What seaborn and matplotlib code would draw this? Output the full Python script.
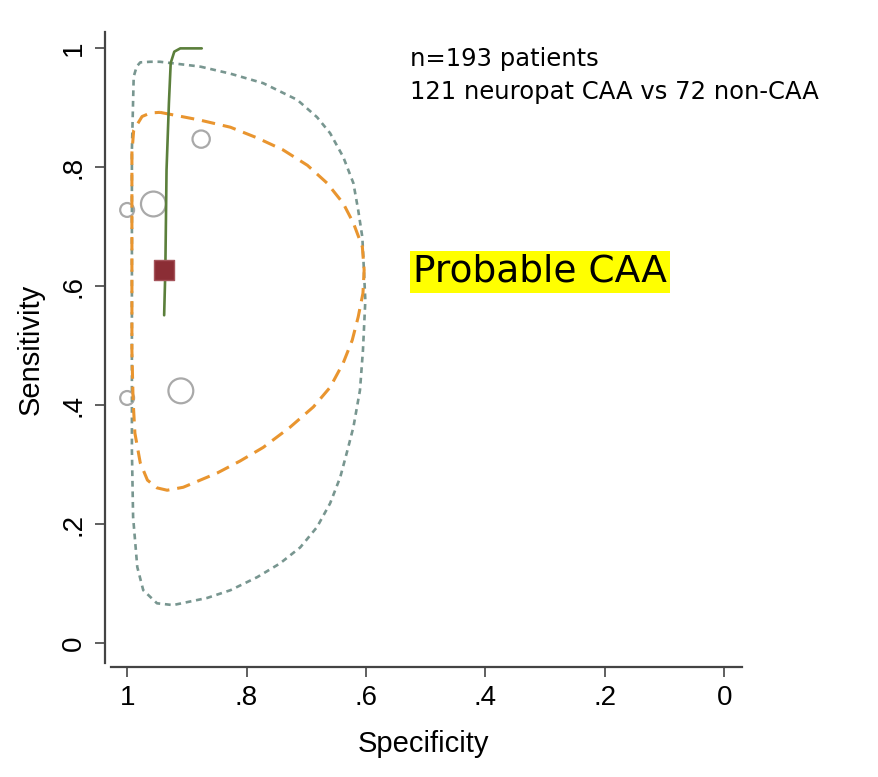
import pandas as pd
import seaborn as sns
import matplotlib.pyplot as plt

# === Study points (specificity, sensitivity, relative weight)
study_spec = [0.876, 1.000, 0.956, 1.000, 0.910]
study_sens = [0.847, 0.728, 0.738, 0.412, 0.424]
study_weight = [1.5, 1.0, 3.0, 1.0, 3.0]

# === Summary point
summ_spec = [0.938]
summ_sens = [0.627]

# === HSROC curve
sroc_spec = [0.938, 0.936, 0.934, 0.930, 0.927, 0.921, 0.911, 0.875]
sroc_sens = [0.551, 0.627, 0.795, 0.908, 0.975, 0.994, 0.9995, 0.9995]

# === 95% confidence region
conf_spec = [0.945, 0.878, 0.827, 0.782, 0.739, 0.698, 0.665, 0.638, 0.621, 0.606,
             0.603, 0.605, 0.613, 0.623, 0.638, 0.660, 0.688, 0.727, 0.772, 0.811,
             0.849, 0.906, 0.933, 0.950, 0.966, 0.978, 0.987, 0.990, 0.992, 0.992,
             0.992, 0.989, 0.975, 0.961, 0.945]
conf_sens = [0.892, 0.879, 0.867, 0.849, 0.829, 0.803, 0.773, 0.739, 0.706, 0.666,
             0.627, 0.588, 0.548, 0.509, 0.471, 0.430, 0.397, 0.363, 0.329, 0.306,
             0.286, 0.262, 0.257, 0.261, 0.274, 0.303, 0.353, 0.408, 0.492, 0.661,
             0.824, 0.862, 0.885, 0.891, 0.892]

# === 95% prediction region
pred_spec = [0.878, 0.827, 0.772, 0.715, 0.682, 0.660, 0.638, 0.621, 0.613, 0.606,
             0.601, 0.605, 0.610, 0.621, 0.631, 0.643, 0.660, 0.682, 0.710, 0.744,
             0.782, 0.827, 0.866, 0.923, 0.950, 0.973, 0.983, 0.990, 0.992, 0.992,
             0.992, 0.989, 0.984, 0.978, 0.961, 0.945, 0.878]
pred_sens = [0.969, 0.957, 0.941, 0.913, 0.884, 0.857, 0.817, 0.773, 0.728, 0.682,
             0.576, 0.492, 0.425, 0.363, 0.324, 0.279, 0.235, 0.195, 0.161, 0.134,
             0.111, 0.089, 0.076, 0.064, 0.067, 0.089, 0.128, 0.212, 0.324, 0.492,
             0.829, 0.952, 0.969, 0.976, 0.977, 0.977, 0.969]

ticks = [0, 0.2, 0.4, 0.6, 0.8, 1]
tick_labels = ['0', '.2', '.4', '.6', '.8', '1']

sns.set_style("white")
plt.rcParams['font.family'] = ['Liberation Sans', 'DejaVu Sans']
plt.rcParams['text.color'] = 'black'
plt.rcParams['axes.labelcolor'] = 'black'
plt.rcParams['xtick.color'] = 'black'
plt.rcParams['ytick.color'] = 'black'

fig = plt.figure(figsize=(8.79, 7.77), dpi=100)
ax = fig.add_axes([0.1195, 0.1416, 0.7247, 0.8172])

# === Regions
sns.lineplot(x=pred_spec, y=pred_sens, sort=False, estimator=None, ax=ax,
             color='#789690', lw=1.9)
ax.lines[-1].set_dashes((2.2, 1.8))
sns.lineplot(x=conf_spec, y=conf_sens, sort=False, estimator=None, ax=ax,
             color='#e9952f', lw=2.2)
ax.lines[-1].set_dashes((4.4, 2.6))

# === Studies
studies = pd.DataFrame({'spec': study_spec, 'sens': study_sens, 'w': study_weight})
sns.scatterplot(data=studies, x='spec', y='sens', size='w', sizes=(100, 320),
                legend=False, facecolors='none', edgecolor='#a9a9a9', linewidth=1.6, ax=ax)

# === SROC curve + summary
sns.lineplot(x=sroc_spec, y=sroc_sens, sort=False, estimator=None, ax=ax,
             color='#5b7f3b', lw=1.9)
sns.scatterplot(x=summ_spec, y=summ_sens, marker='s', s=190, color='#8b2d35',
                edgecolor='#a5545b', linewidth=1, ax=ax, zorder=4)

ax.set_xlim(1.037, -0.030)
ax.set_ylim(-0.040, 1.027)
ax.set_xticks(ticks)
ax.set_xticklabels(tick_labels, fontsize=20)
ax.set_yticks(ticks)
ax.set_yticklabels(tick_labels, fontsize=20, rotation=90, va='center')
ax.tick_params(axis='both', direction='out', length=7, width=1.2, color='#444444',
               left=True, bottom=True, pad=6)
for s in ['top', 'right']:
    ax.spines[s].set_visible(False)
for s in ['left', 'bottom']:
    ax.spines[s].set_color('#444444')
    ax.spines[s].set_linewidth(1.6)
ax.spines['bottom'].set_bounds(1.027, -0.030)
ax.spines['left'].set_bounds(-0.033, 1.027)

ax.set_xlabel('Specificity', fontsize=21, labelpad=14)
ax.set_ylabel('Sensitivity', fontsize=21, labelpad=12)

# === Annotations
fig.text(410 / 879, 1 - 66 / 777, 'n=193 patients', fontsize=17.5, family='DejaVu Sans')
fig.text(410 / 879, 1 - 99 / 777, '121 neuropat CAA vs 72 non-CAA', fontsize=17.5,
         family='DejaVu Sans')
fig.text(413 / 879, 1 - 282 / 777, 'Probable CAA', fontsize=27, family='DejaVu Sans',
         bbox=dict(facecolor='#ffff00', edgecolor='none', pad=2.5))

plt.savefig('out.png', dpi=100)
